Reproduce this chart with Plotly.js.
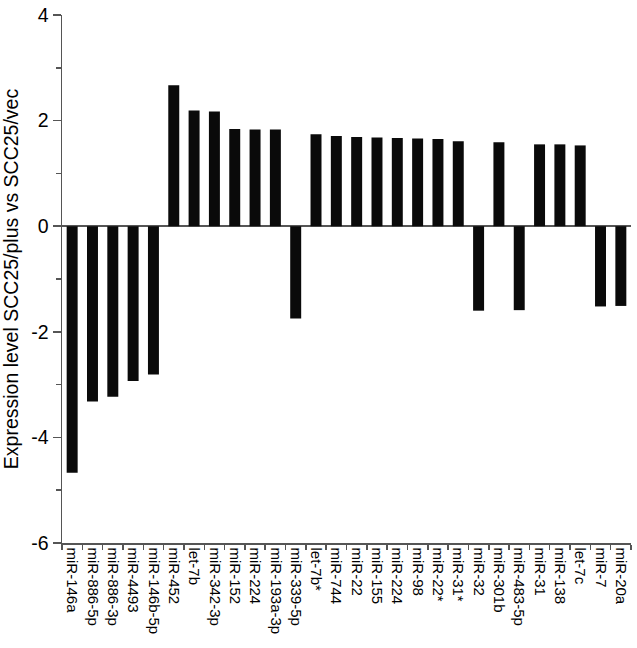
<!DOCTYPE html>
<html>
<head>
<meta charset="utf-8">
<script src="https://cdn.plot.ly/plotly-3.0.1.min.js"></script>
<style>html,body{margin:0;padding:0;background:#fff;}#chart{width:637px;height:648px;}</style>
</head>
<body>
<div id="chart"></div>
<script>
var categories = ["miR-146a","miR-886-5p","miR-886-3p","miR-4493","miR-146b-5p","miR-452","let-7b","miR-342-3p","miR-152","miR-224 ","miR-193a-3p","miR-339-5p","let-7b*","miR-744","miR-22","miR-155","miR-224","miR-98","miR-22*","miR-31*","miR-32","miR-301b","miR-483-5p","miR-31","miR-138","let-7c","miR-7","miR-20a"];
var values = [-4.67,-3.32,-3.23,-2.93,-2.81,2.67,2.19,2.17,1.84,1.83,1.83,-1.75,1.74,1.71,1.69,1.68,1.67,1.66,1.65,1.61,-1.60,1.59,-1.59,1.55,1.55,1.53,-1.52,-1.51];
var yTickVals = [-6,-4,-2,0,2,4];

var axisColor = "#555";
var data = [{
  type: "bar",
  x: categories,
  y: values,
  marker: {color: "#0a0a0a", line: {width: 0}},
  width: 0.54,
  hoverinfo: "x+y"
}];
var layout = {
  width: 637, height: 648,
  margin: {l: 62, r: 6, t: 15, b: 105},
  paper_bgcolor: "#fff", plot_bgcolor: "#fff",
  font: {family: "Arial, 'Liberation Sans', sans-serif", color: "#000"},
  showlegend: false,
  xaxis: {
    type: "category",
    tickangle: 90,
    tickfont: {size: 15, color: "#000"},
    showline: true, linecolor: axisColor, linewidth: 1.5,
    ticks: "outside", tickson: "boundaries", ticklen: 5, tickcolor: axisColor, tickwidth: 1.5,
    showgrid: false, zeroline: false,
    range: [-0.5, 27.5],
    fixedrange: true
  },
  yaxis: {
    range: [-6, 4],
    tickvals: yTickVals,
    ticktext: yTickVals.map(String),
    tickfont: {size: 19.5, color: "#000"},
    showline: true, linecolor: axisColor, linewidth: 1.5,
    ticks: "outside", ticklen: 8, tickcolor: axisColor, tickwidth: 1.5,
    minor: {dtick: 1, tick0: 0, ticks: "outside", ticklen: 5, tickcolor: axisColor, tickwidth: 1.5, showgrid: false},
    showgrid: false,
    zeroline: true, zerolinecolor: axisColor, zerolinewidth: 1.5,
    title: {text: "Expression level SCC25/plus vs SCC25/vec", font: {size: 19.5, color: "#000"}, standoff: 10},
    fixedrange: true
  }
};
Plotly.newPlot("chart", data, layout, {displayModeBar: false, staticPlot: true});
</script>
</body>
</html>
